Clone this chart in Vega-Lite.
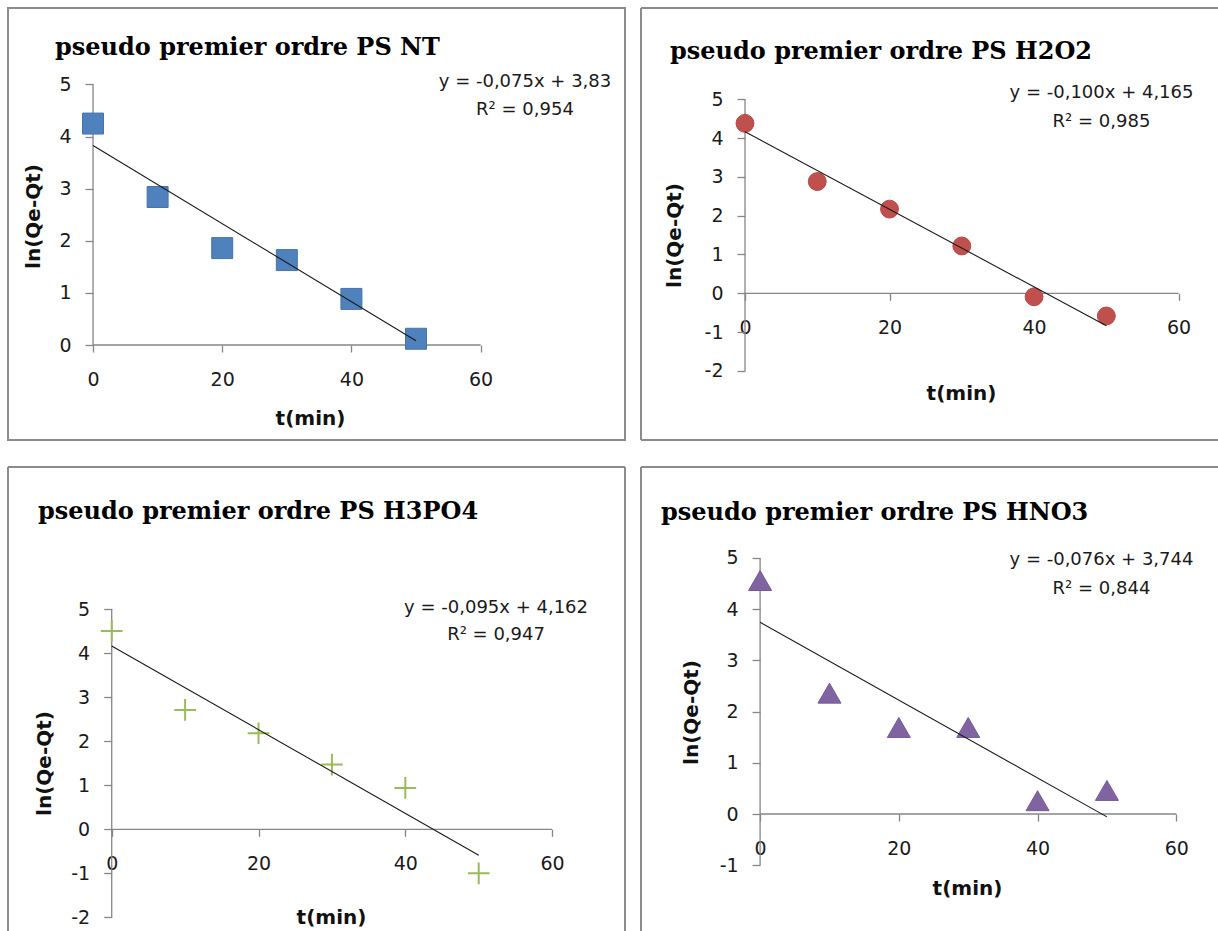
{
  "$schema": "https://vega.github.io/schema/vega-lite/v6.json",
  "background": "white",
  "padding": {"left": 7, "top": 7, "right": 0, "bottom": 0},
  "datasets": {
    "nt": [{"t": 0, "ln": 4.25}, {"t": 10, "ln": 2.84}, {"t": 20, "ln": 1.86}, {"t": 30, "ln": 1.63}, {"t": 40, "ln": 0.885}, {"t": 50, "ln": 0.12}],
    "h2o2": [{"t": 0, "ln": 4.38}, {"t": 10, "ln": 2.88}, {"t": 20, "ln": 2.17}, {"t": 30, "ln": 1.22}, {"t": 40, "ln": -0.09}, {"t": 50, "ln": -0.585}],
    "h3po4": [{"t": 0, "ln": 4.5}, {"t": 10, "ln": 2.71}, {"t": 20, "ln": 2.18}, {"t": 30, "ln": 1.47}, {"t": 40, "ln": 0.94}, {"t": 50, "ln": -1.0}],
    "hno3": [{"t": 0, "ln": 4.56}, {"t": 10, "ln": 2.36}, {"t": 20, "ln": 1.69}, {"t": 30, "ln": 1.69}, {"t": 40, "ln": 0.26}, {"t": 50, "ln": 0.46}],
    "nt_fit": [{"t": 0, "ln": 3.83}, {"t": 50, "ln": 0.08}],
    "h2o2_fit": [{"t": 0, "ln": 4.165}, {"t": 50, "ln": -0.835}],
    "h3po4_fit": [{"t": 0, "ln": 4.162}, {"t": 50, "ln": -0.588}],
    "hno3_fit": [{"t": 0, "ln": 3.744}, {"t": 50, "ln": -0.056}],
    "labels": [
      {"panel": "NT", "title": "pseudo premier ordre PS NT", "eq": "y = -0,075x + 3,83", "r2": "R² = 0,954"},
      {"panel": "H2O2", "title": "pseudo premier ordre PS H2O2", "eq": "y = -0,100x + 4,165", "r2": "R² = 0,985"},
      {"panel": "H3PO4", "title": "pseudo premier ordre PS H3PO4", "eq": "y = -0,095x + 4,162", "r2": "R² = 0,947"},
      {"panel": "HNO3", "title": "pseudo premier ordre PS HNO3", "eq": "y = -0,076x + 3,744", "r2": "R² = 0,844"}
    ]
  },
  "config": {
    "view": {"stroke": null},
    "axis": {
      "domain": false, "grid": false,
      "tickColor": "#868686", "tickWidth": 1.3,
      "labelFont": "DejaVu Sans", "labelFontSize": 19, "labelColor": "#1a1a1a",
      "labelOverlap": false, "labelFlush": false,
      "labelExpr": "replace(datum.label, '\u2212', '-')",
      "titleFont": "DejaVu Sans", "titleFontSize": 20, "titleFontWeight": "bold", "titleColor": "#111111",
      "titleAlign": "center", "titleBaseline": "middle"
    },
    "axisX": {"tickSize": 7, "labelPadding": 18},
    "axisY": {"tickSize": 8, "labelPadding": 14, "titleAngle": -90},
    "rule": {"color": "#868686", "strokeWidth": 1.3},
    "text": {"font": "DejaVu Sans", "fontSize": 18, "color": "#1a1a1a"}
  },
  "columns": 2,
  "spacing": {"row": 27, "column": 16},
  "bounds": "flush",
  "concat": [
    {
      "width": 617, "height": 432,
      "view": {"stroke": "#8c8c8c", "strokeWidth": 2},
      "layer": [
        {"data": {"values": [{}]}, "mark": {"type": "rule"}, "encoding": {"x": {"datum": 0}, "x2": {"datum": 60}, "y": {"datum": 0}}},
        {"data": {"values": [{}]}, "mark": {"type": "rule"}, "encoding": {"x": {"datum": 0}, "y": {"datum": 0}, "y2": {"datum": 5}}},
        {
          "data": {"name": "nt"},
          "mark": {"type": "point", "shape": "square", "filled": true, "size": 440, "color": "#4F81BD", "stroke": "#4474AE", "strokeWidth": 1, "opacity": 1},
          "encoding": {
            "x": {"field": "t", "type": "quantitative", "scale": {"domain": [-13.16, 82.35], "nice": false, "zero": false},
                  "axis": {"offset": -95, "values": [0, 20, 40, 60], "title": "t(min)", "titleX": 302, "titleY": 73}},
            "y": {"field": "ln", "type": "quantitative", "scale": {"domain": [-1.823, 6.468], "nice": false, "zero": false},
                  "axis": {"offset": -85, "values": [0, 1, 2, 3, 4, 5], "title": "ln(Qe-Qt)", "titleX": -60, "titleY": 208}}
          }
        },
        {"data": {"name": "nt_fit"}, "mark": {"type": "line", "color": "#1a1a1a", "strokeWidth": 1.1}, "encoding": {"x": {"field": "t", "type": "quantitative"}, "y": {"field": "ln", "type": "quantitative"}}},
        {"data": {"name": "labels"}, "transform": [{"filter": "datum.panel == 'NT'"}],
         "mark": {"type": "text", "align": "left", "baseline": "alphabetic", "font": "DejaVu Serif", "fontWeight": "bold", "fontSize": 24, "color": "#000000"},
         "encoding": {"x": {"datum": -5.88}, "y": {"datum": 5.566}, "text": {"field": "title"}}},
        {"data": {"name": "labels"}, "transform": [{"filter": "datum.panel == 'NT'"}],
         "mark": {"type": "text", "align": "center", "baseline": "middle"},
         "encoding": {"x": {"datum": 66.87}, "y": {"datum": 5.048}, "text": {"field": "eq"}}},
        {"data": {"name": "labels"}, "transform": [{"filter": "datum.panel == 'NT'"}],
         "mark": {"type": "text", "align": "center", "baseline": "middle"},
         "encoding": {"x": {"datum": 66.87}, "y": {"datum": 4.511}, "text": {"field": "r2"}}}
      ]
    },
    {
      "width": 577, "height": 432,
      "layer": [
        {"data": {"values": [{}]}, "mark": {"type": "rule", "color": "#8c8c8c", "strokeWidth": 2}, "encoding": {"x": {"datum": -14.39}, "y": {"datum": -3.781}, "y2": {"datum": 7.353}}},
        {"data": {"values": [{}]}, "mark": {"type": "rule", "color": "#8c8c8c", "strokeWidth": 2}, "encoding": {"x": {"datum": -14.39}, "x2": {"datum": 65.45}, "y": {"datum": 7.353}}},
        {"data": {"values": [{}]}, "mark": {"type": "rule", "color": "#8c8c8c", "strokeWidth": 2}, "encoding": {"x": {"datum": -14.39}, "x2": {"datum": 65.45}, "y": {"datum": -3.781}}},
        {"data": {"values": [{}]}, "mark": {"type": "rule"}, "encoding": {"x": {"datum": 0}, "x2": {"datum": 60}, "y": {"datum": 0}}},
        {"data": {"values": [{}]}, "mark": {"type": "rule"}, "encoding": {"x": {"datum": 0}, "y": {"datum": -2}, "y2": {"datum": 5}}},
        {
          "data": {"name": "h2o2"},
          "mark": {"type": "point", "shape": "circle", "filled": true, "size": 320, "color": "#C0504D", "stroke": "#B54A47", "strokeWidth": 1, "opacity": 1},
          "encoding": {
            "x": {"field": "t", "type": "quantitative", "scale": {"domain": [-14.39, 65.45], "nice": false, "zero": false},
                  "axis": {"offset": -146.7, "values": [0, 20, 40, 60], "title": "t(min)", "titleX": 320, "titleY": 99.7}},
            "y": {"field": "ln", "type": "quantitative", "scale": {"domain": [-3.781, 7.353], "nice": false, "zero": false},
                  "axis": {"offset": -104, "values": [-2, -1, 0, 1, 2, 3, 4, 5], "title": "ln(Qe-Qt)", "titleX": -71, "titleY": 227}}
          }
        },
        {"data": {"name": "h2o2_fit"}, "mark": {"type": "line", "color": "#1a1a1a", "strokeWidth": 1.1}, "encoding": {"x": {"field": "t", "type": "quantitative"}, "y": {"field": "ln", "type": "quantitative"}}},
        {"data": {"name": "labels"}, "transform": [{"filter": "datum.panel == 'H2O2'"}],
         "mark": {"type": "text", "align": "left", "baseline": "alphabetic", "font": "DejaVu Serif", "fontWeight": "bold", "fontSize": 24, "color": "#000000"},
         "encoding": {"x": {"datum": -10.38}, "y": {"datum": 6.039}, "text": {"field": "title"}}},
        {"data": {"name": "labels"}, "transform": [{"filter": "datum.panel == 'H2O2'"}],
         "mark": {"type": "text", "align": "center", "baseline": "middle"},
         "encoding": {"x": {"datum": 49.33}, "y": {"datum": 5.16}, "text": {"field": "eq"}}},
        {"data": {"name": "labels"}, "transform": [{"filter": "datum.panel == 'H2O2'"}],
         "mark": {"type": "text", "align": "center", "baseline": "middle"},
         "encoding": {"x": {"datum": 49.33}, "y": {"datum": 4.415}, "text": {"field": "r2"}}}
      ]
    },
    {
      "width": 617, "height": 464,
      "layer": [
        {"data": {"values": [{}]}, "mark": {"type": "rule", "color": "#8c8c8c", "strokeWidth": 2}, "encoding": {"x": {"datum": -14.13}, "y": {"datum": -2.308}, "y2": {"datum": 8.223}}},
        {"data": {"values": [{}]}, "mark": {"type": "rule", "color": "#8c8c8c", "strokeWidth": 2}, "encoding": {"x": {"datum": 69.93}, "y": {"datum": -2.308}, "y2": {"datum": 8.223}}},
        {"data": {"values": [{}]}, "mark": {"type": "rule", "color": "#8c8c8c", "strokeWidth": 2}, "encoding": {"x": {"datum": -14.13}, "x2": {"datum": 69.93}, "y": {"datum": 8.223}}},
        {"data": {"values": [{}]}, "mark": {"type": "rule"}, "encoding": {"x": {"datum": 0}, "x2": {"datum": 60}, "y": {"datum": 0}}},
        {"data": {"values": [{}]}, "mark": {"type": "rule"}, "encoding": {"x": {"datum": 0}, "y": {"datum": -2}, "y2": {"datum": 5}}},
        {
          "data": {"name": "h3po4"},
          "mark": {"type": "point", "shape": "M-1,0L1,0M0,-1L0,1", "filled": false, "size": 470, "color": "#9BBB59", "strokeWidth": 2, "opacity": 1},
          "encoding": {
            "x": {"field": "t", "type": "quantitative", "scale": {"domain": [-14.13, 69.93], "nice": false, "zero": false},
                  "axis": {"offset": -101.7, "values": [0, 20, 40, 60], "title": "t(min)", "titleX": 323, "titleY": 87.7}},
            "y": {"field": "ln", "type": "quantitative", "scale": {"domain": [-2.308, 8.223], "nice": false, "zero": false},
                  "axis": {"offset": -103.7, "values": [-2, -1, 0, 1, 2, 3, 4, 5], "title": "ln(Qe-Qt)", "titleX": -67.7, "titleY": 296}}
          }
        },
        {"data": {"name": "h3po4_fit"}, "mark": {"type": "line", "color": "#1a1a1a", "strokeWidth": 1.1}, "encoding": {"x": {"field": "t", "type": "quantitative"}, "y": {"field": "ln", "type": "quantitative"}}},
        {"data": {"name": "labels"}, "transform": [{"filter": "datum.panel == 'H3PO4'"}],
         "mark": {"type": "text", "align": "left", "baseline": "alphabetic", "font": "DejaVu Serif", "fontWeight": "bold", "fontSize": 24, "color": "#000000"},
         "encoding": {"x": {"datum": -10.04}, "y": {"datum": 7.043}, "text": {"field": "title"}}},
        {"data": {"name": "labels"}, "transform": [{"filter": "datum.panel == 'H3PO4'"}],
         "mark": {"type": "text", "align": "center", "baseline": "middle"},
         "encoding": {"x": {"datum": 52.36}, "y": {"datum": 5.034}, "text": {"field": "eq"}}},
        {"data": {"name": "labels"}, "transform": [{"filter": "datum.panel == 'H3PO4'"}],
         "mark": {"type": "text", "align": "center", "baseline": "middle"},
         "encoding": {"x": {"datum": 52.36}, "y": {"datum": 4.41}, "text": {"field": "r2"}}}
      ]
    },
    {
      "width": 577, "height": 464,
      "layer": [
        {"data": {"values": [{}]}, "mark": {"type": "rule", "color": "#8c8c8c", "strokeWidth": 2}, "encoding": {"x": {"datum": -17.17}, "y": {"datum": -2.285}, "y2": {"datum": 6.777}}},
        {"data": {"values": [{}]}, "mark": {"type": "rule", "color": "#8c8c8c", "strokeWidth": 2}, "encoding": {"x": {"datum": -17.17}, "x2": {"datum": 66.01}, "y": {"datum": 6.777}}},
        {"data": {"values": [{}]}, "mark": {"type": "rule"}, "encoding": {"x": {"datum": 0}, "x2": {"datum": 60}, "y": {"datum": 0}}},
        {"data": {"values": [{}]}, "mark": {"type": "rule"}, "encoding": {"x": {"datum": 0}, "y": {"datum": -1}, "y2": {"datum": 5}}},
        {
          "data": {"name": "hno3"},
          "mark": {"type": "point", "shape": "triangle-up", "filled": true, "size": 530, "color": "#8064A2", "stroke": "#76599A", "strokeWidth": 1, "opacity": 1},
          "encoding": {
            "x": {"field": "t", "type": "quantitative", "scale": {"domain": [-17.17, 66.01], "nice": false, "zero": false},
                  "axis": {"offset": -117, "values": [0, 20, 40, 60], "title": "t(min)", "titleX": 326, "titleY": 74}},
            "y": {"field": "ln", "type": "quantitative", "scale": {"domain": [-2.285, 6.777], "nice": false, "zero": false},
                  "axis": {"offset": -119.1, "values": [-1, 0, 1, 2, 3, 4, 5], "title": "ln(Qe-Qt)", "titleX": -69, "titleY": 245}}
          }
        },
        {"data": {"name": "hno3_fit"}, "mark": {"type": "line", "color": "#1a1a1a", "strokeWidth": 1.1}, "encoding": {"x": {"field": "t", "type": "quantitative"}, "y": {"field": "ln", "type": "quantitative"}}},
        {"data": {"name": "labels"}, "transform": [{"filter": "datum.panel == 'HNO3'"}],
         "mark": {"type": "text", "align": "left", "baseline": "alphabetic", "font": "DejaVu Serif", "fontWeight": "bold", "fontSize": 24, "color": "#000000"},
         "encoding": {"x": {"datum": -14.29}, "y": {"datum": 5.742}, "text": {"field": "title"}}},
        {"data": {"name": "labels"}, "transform": [{"filter": "datum.panel == 'HNO3'"}],
         "mark": {"type": "text", "align": "center", "baseline": "middle"},
         "encoding": {"x": {"datum": 49.21}, "y": {"datum": 4.951}, "text": {"field": "eq"}}},
        {"data": {"name": "labels"}, "transform": [{"filter": "datum.panel == 'HNO3'"}],
         "mark": {"type": "text", "align": "center", "baseline": "middle"},
         "encoding": {"x": {"datum": 49.21}, "y": {"datum": 4.395}, "text": {"field": "r2"}}}
      ]
    }
  ]
}
